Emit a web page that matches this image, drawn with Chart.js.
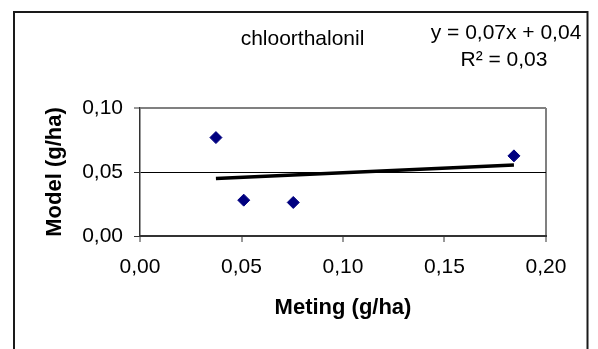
<!DOCTYPE html>
<html>
<head>
<meta charset="utf-8">
<title>chloorthalonil</title>
<script src="https://cdn.jsdelivr.net/npm/chart.js@4.4.1/dist/chart.umd.min.js"></script>
<style>
    html, body { margin: 0; padding: 0; background: #fff; }
    .chart-box { position: relative; width: 598px; height: 349px; }
</style>
</head>
<body>
<div class="chart-box"><canvas id="chart"></canvas></div>
<script>
// measured (Meting) vs model values, g/ha
const meting = [0.0374, 0.0511, 0.0755, 0.1842];
const model = [0.0769, 0.0280, 0.0262, 0.0626];
const xTicks = [0, 0.05, 0.1, 0.15, 0.2];
const yTicks = [0, 0.05, 0.1];
const titleText = 'chloorthalonil';
const eqText = 'y = 0,07x + 0,04';
const r2Text = 'R² = 0,03';

const FONT = '"Liberation Sans", Arial, sans-serif';

// linear trend line through the points
function linearFit(xs, ys) {
    const n = xs.length;
    const mx = xs.reduce((a, b) => a + b, 0) / n;
    const my = ys.reduce((a, b) => a + b, 0) / n;
    let sxy = 0, sxx = 0;
    xs.forEach((x, i) => {
        sxy += (x - mx) * (ys[i] - my);
        sxx += (x - mx) * (x - mx);
    });
    const slope = sxy / sxx;
    return { slope, intercept: my - slope * mx };
}

const fit = linearFit(meting, model);
const xMin = Math.min(...meting);
const xMax = Math.max(...meting);
const trend = [xMin, xMax].map((x) => ({ x, y: fit.intercept + fit.slope * x }));
const points = meting.map((x, i) => ({ x, y: model[i] }));

const near = (a, b) => Math.abs(a - b) < 1e-9;
const fmt = (v) => v.toFixed(2).replace('.', ',');

const framePlugin = {
    id: 'frame-and-labels',
    afterDraw(chart) {
        const { ctx } = chart;
        ctx.save();
        ctx.strokeStyle = '#1a1a1a';
        ctx.lineWidth = 2;
        ctx.strokeRect(14, 12, 573.5, 400);

        ctx.fillStyle = '#000';
        ctx.font = '21px ' + FONT;
        ctx.textBaseline = 'alphabetic';
        ctx.textAlign = 'center';
        ctx.fillText(titleText, 302.5, 45);
        ctx.fillText(eqText, 506, 38.5);
        ctx.fillText(r2Text, 504, 66);
        ctx.restore();
    },
};

const ctx = document.getElementById('chart').getContext('2d');

new Chart(ctx, {
    type: 'scatter',
    data: {
        datasets: [
            {
                data: points,
                pointStyle: 'rectRot',
                pointRadius: 6,
                pointHoverRadius: 6,
                backgroundColor: '#000080',
                borderColor: '#000080',
                borderWidth: 1,
            },
            {
                type: 'line',
                data: trend,
                borderColor: '#000',
                borderWidth: 3.5,
                pointRadius: 0,
                fill: false,
            },
        ],
    },
    options: {
        responsive: true,
        maintainAspectRatio: false,
        animation: false,
        events: [],
        layout: {
            padding: { left: 0, top: 108, right: 52, bottom: 0 },
        },
        plugins: {
            legend: { display: false },
            tooltip: { enabled: false },
        },
        scales: {
            x: {
                type: 'linear',
                min: 0,
                max: 0.2,
                afterBuildTicks: (scale) => {
                    scale.ticks = xTicks.map((v) => ({ value: v }));
                },
                afterFit: (scale) => {
                    scale.height = 113;
                },
                ticks: {
                    padding: 13,
                    color: '#000',
                    font: { family: FONT, size: 21 },
                    callback: (v) => fmt(v),
                    maxRotation: 0,
                },
                grid: {
                    color: (c) => (c.tick && near(c.tick.value, 0.2) ? '#808080' : 'rgba(0,0,0,0)'),
                    lineWidth: 2,
                    tickColor: '#333',
                    tickWidth: 1,
                    tickLength: 6,
                },
                border: { color: '#333', width: 2 },
                title: {
                    display: true,
                    text: 'Meting (g/ha)',
                    color: '#000',
                    font: { family: FONT, size: 22, weight: 'bold' },
                    padding: { top: 0, bottom: 28 },
                },
            },
            y: {
                type: 'linear',
                min: 0,
                max: 0.1,
                afterBuildTicks: (scale) => {
                    scale.ticks = yTicks.map((v) => ({ value: v }));
                },
                afterFit: (scale) => {
                    scale.width = 140;
                },
                ticks: {
                    padding: 11,
                    color: '#000',
                    font: { family: FONT, size: 21 },
                    callback: (v) => fmt(v),
                },
                grid: {
                    color: (c) => {
                        if (!c.tick) return 'rgba(0,0,0,0)';
                        if (near(c.tick.value, 0.05)) return '#000';
                        if (near(c.tick.value, 0.1)) return '#808080';
                        return 'rgba(0,0,0,0)';
                    },
                    lineWidth: (c) => (c.tick && near(c.tick.value, 0.1) ? 2 : 1),
                    tickColor: '#333',
                    tickWidth: 1,
                    tickLength: 6,
                },
                border: { color: '#333', width: 1.5 },
                title: {
                    display: true,
                    text: 'Model (g/ha)',
                    color: '#000',
                    font: { family: FONT, size: 22, weight: 'bold' },
                    padding: { top: 42, bottom: 0 },
                },
            },
        },
    },
    plugins: [framePlugin],
});
</script>
</body>
</html>
